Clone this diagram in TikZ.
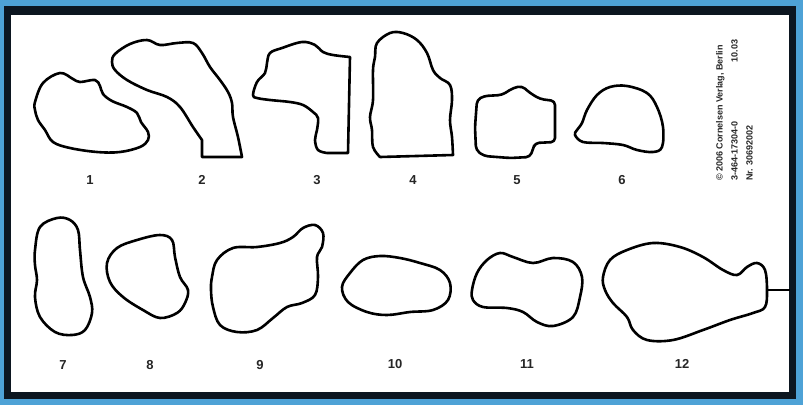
\documentclass[tikz,border=0pt]{standalone}
\usepackage{fontspec}
\setmainfont{Liberation Sans}
\definecolor{frameblue}{RGB}{78,162,214}
\definecolor{framedark}{RGB}{12,22,32}
\begin{document}
\begin{tikzpicture}[x=1pt,y=-1pt,
  blob/.style={draw=black,line width=2.6pt,line join=round,line cap=round},
  lbl/.style={font=\fontsize{13}{13}\selectfont\bfseries,text=black!85,inner sep=0pt}]
\useasboundingbox (0,0) rectangle (803,405);
\fill[frameblue] (0,0) rectangle (803,405);
\fill[framedark] (4,6) rectangle (796,399);
\fill[white] (11,15) rectangle (789,392);

% shape 1
\draw[blob] plot[smooth cycle,tension=0.6] coordinates {(35,102) (43,83) (60,73) (73,79) (80,82) (95,80) (100,86) (103,94) (112,101) (127,107) (137,113) (141,122) (148,132) (148,140) (140,147) (120,152) (97,152) (70,148) (53,142) (45,130) (38,120) (35,110)};
\node[lbl] (l1) at (90,180) {1};
% shape 2
\draw[blob] plot[smooth,tension=0.6] coordinates {(202,140) (193,127) (180,107) (167,97) (147,90) (127,80) (115,70) (112,62) (115,54) (130,44) (147,40) (160,45) (177,43) (193,43) (202,53) (210,67) (220,80) (228,92) (232,103) (233,117) (238,137) (242,157)} -- (202,157) -- cycle;
\node[lbl] (l2) at (202,180) {2};
% shape 3
\draw[blob] plot[smooth,tension=0.6] coordinates {(327,153) (318,150) (315,140) (317,130) (318,118) (313,112) (303,105) (290,102) (270,100) (257,98) (253,95) (257,82) (265,73) (267,63) (270,53) (282,48) (302,42) (315,45) (323,52) (333,55) (350,57)} -- (348,153) -- cycle;
\node[lbl] (l3) at (317,180) {3};
% shape 4
\draw[blob] plot[smooth,tension=0.6] coordinates {(380,157) (373,147) (372,130) (370,117) (373,100) (373,70) (375,57) (377,43) (390,33) (403,33) (417,40) (427,53) (433,70) (440,78) (450,85) (452,100) (450,120) (452,137) (453,155)} -- cycle;
\node[lbl] (l4) at (413,180) {4};
% shape 5
\draw[blob,rounded corners=4pt] (475,127) -- (477,100) -- (484,96) -- (502,95) -- (513,88) -- (522,86) -- (530,93) -- (540,99) -- (555,101) -- (555,142) -- (535,143) -- (533,149) -- (530,157) -- (510,158) -- (484,156) -- (476,150) -- cycle;
\node[lbl] (l5) at (517,180) {5};
% shape 6
\draw[blob] plot[smooth cycle,tension=0.6] coordinates {(577,130) (582,123) (587,110) (597,95) (610,87) (627,86) (647,93) (657,107) (663,127) (662,147) (653,152) (637,150) (623,145) (603,143) (583,142) (575,135)};
\node[lbl] (l6) at (622,180) {6};

% shape 7
\draw[blob] plot[smooth cycle,tension=0.6] coordinates {(35,250) (40,227) (57,218) (70,220) (78,230) (80,250) (83,277) (90,297) (92,313) (85,330) (72,335) (55,332) (40,317) (35,297) (37,280) (35,265)};
\node[lbl] (l7) at (63,365) {7};
% shape 8
\draw[blob] plot[smooth cycle,tension=0.6] coordinates {(107,263) (117,248) (137,240) (160,235) (172,240) (175,257) (180,277) (188,290) (185,303) (177,313) (160,318) (143,310) (123,297) (110,282)};
\node[lbl] (l8) at (150,365) {8};
% shape 9
\draw[blob] plot[smooth cycle,tension=0.6] coordinates {(212,277) (217,260) (233,248) (257,247) (280,243) (293,237) (303,228) (315,225) (323,233) (322,247) (317,257) (318,277) (315,295) (302,303) (287,307) (273,318) (257,330) (237,332) (220,325) (213,307) (211,290)};
\node[lbl] (l9) at (260,365) {9};
% shape 10
\draw[blob] plot[smooth cycle,tension=0.6] coordinates {(342,287) (350,273) (363,260) (380,256) (400,258) (420,263) (440,270) (450,283) (448,300) (433,310) (410,312) (387,315) (367,312) (348,302)};
\node[lbl] (l10) at (395,364) {10};
% shape 11
\draw[blob] plot[smooth cycle,tension=0.6] coordinates {(472,290) (477,273) (487,260) (500,253) (513,257) (533,263) (553,258) (573,262) (582,277) (580,297) (573,317) (553,326) (537,322) (523,312) (507,308) (483,307) (473,300)};
\node[lbl] (l11) at (527,364) {11};
% shape 12
\draw[blob] plot[smooth cycle,tension=0.6] coordinates {(603,277) (610,260) (627,250) (653,243) (680,247) (703,257) (723,270) (737,275) (747,267) (757,263) (765,270) (767,290) (765,307) (753,313) (730,320) (703,330) (673,340) (647,340) (633,330) (627,317) (613,303) (605,290)};
\node[lbl] (l12) at (682,364) {12};
\coordinate (s12) at (767,290);
\coordinate (edge) at (790,290);
\draw[line width=1.6pt] (s12) -- (edge);

% imprint
\node[rotate=90,anchor=north west,inner sep=0pt,align=left,text=black!85,
  font=\fontsize{9}{15}\selectfont\bfseries] (imp) at (716,181)
  {\makebox[141pt][l]{© 2006 Cornelsen Verlag, Berlin}\\
   \makebox[141pt][l]{3-464-17304-0\hfill 10.03}\\
   \makebox[141pt][l]{Nr. 30692002}};
\end{tikzpicture}
\end{document}
